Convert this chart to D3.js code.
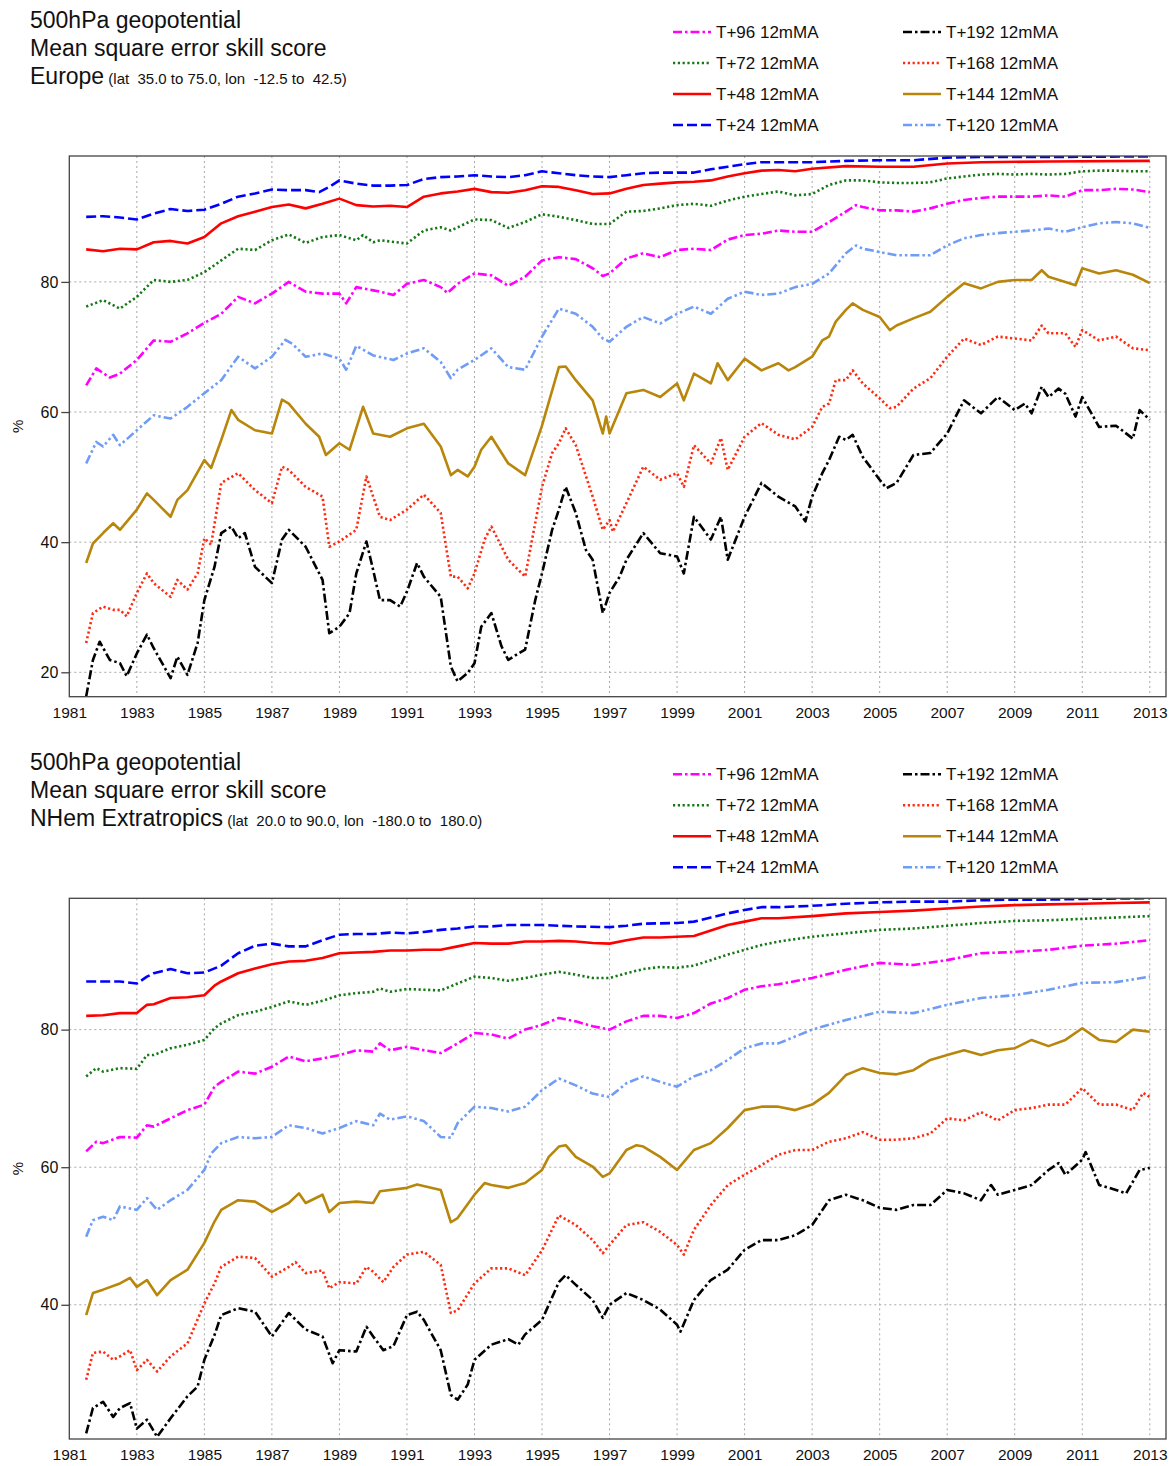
<!DOCTYPE html>
<html>
<head>
<meta charset="utf-8">
<script src="https://cdn.jsdelivr.net/npm/d3@7"></script>
<style>
  body { margin: 0; background: #fff; }
  svg text { font-family: "Liberation Sans", Arial, Helvetica, sans-serif; fill: #111; white-space: pre; }
</style>
</head>
<body>
<script>
'use strict';

// ---- series metadata ----
const seriesNames = ["T+24 12mMA", "T+48 12mMA", "T+72 12mMA", "T+96 12mMA",
                     "T+120 12mMA", "T+144 12mMA", "T+168 12mMA", "T+192 12mMA"];
const xTickYears = [1981, 1983, 1985, 1987, 1989, 1991, 1993, 1995, 1997, 1999,
                    2001, 2003, 2005, 2007, 2009, 2011, 2013];
const euYTicks = [20, 40, 60, 80];
const nhYTicks = [40, 60, 80];

// ---- Europe, [year, value %] ----
const eu24 = [[1981.5,90.0],[1982,90.1],[1982.5,89.9],[1983,89.6],[1983.5,90.5],[1984,91.2],[1984.5,90.9],[1985,91.1],[1985.5,92.0],[1986,93.1],[1986.5,93.6],[1987,94.2],[1987.5,94.1],[1988,94.1],[1988.4,93.8],[1988.7,94.6],[1989,95.6],[1989.5,95.1],[1990,94.8],[1990.5,94.8],[1991,94.9],[1991.5,95.8],[1992,96.1],[1992.5,96.2],[1993,96.4],[1993.5,96.2],[1994,96.1],[1994.5,96.4],[1995,97.0],[1995.5,96.7],[1996,96.4],[1996.5,96.2],[1997,96.1],[1997.5,96.4],[1998,96.7],[1998.5,96.8],[1999,96.8],[1999.5,96.8],[2000,97.3],[2000.5,97.7],[2001,98.1],[2001.5,98.4],[2002,98.4],[2003,98.4],[2004,98.6],[2005,98.7],[2006,98.7],[2007,99.1],[2008,99.2],[2010,99.2],[2013,99.3]];
const eu48 = [[1981.5,85.0],[1982,84.7],[1982.5,85.1],[1983,85.0],[1983.5,86.1],[1984,86.3],[1984.5,85.9],[1985,86.9],[1985.5,89.0],[1986,90.1],[1986.5,90.8],[1987,91.5],[1987.5,91.9],[1988,91.3],[1988.5,92.0],[1989,92.8],[1989.5,91.8],[1990,91.6],[1990.5,91.7],[1991,91.5],[1991.5,93.1],[1992,93.6],[1992.5,93.9],[1993,94.3],[1993.5,93.8],[1994,93.7],[1994.5,94.1],[1995,94.7],[1995.5,94.6],[1996,94.1],[1996.5,93.5],[1997,93.6],[1997.5,94.3],[1998,94.9],[1998.5,95.1],[1999,95.3],[1999.5,95.4],[2000,95.6],[2000.5,96.2],[2001,96.7],[2001.5,97.1],[2002,97.2],[2002.5,97.0],[2003,97.4],[2004,97.8],[2005,97.7],[2006,97.7],[2007,98.2],[2008,98.4],[2010,98.5],[2013,98.6]];
const eu72 = [[1981.5,76.2],[1982,77.2],[1982.5,75.9],[1983,77.7],[1983.5,80.3],[1984,80.0],[1984.5,80.3],[1985,81.5],[1985.5,83.3],[1986,85.1],[1986.5,84.9],[1987,86.4],[1987.5,87.3],[1988,86.0],[1988.5,86.9],[1989,87.2],[1989.5,86.4],[1989.7,87.2],[1990,86.1],[1990.2,86.4],[1991,85.9],[1991.5,87.9],[1992,88.4],[1992.3,87.9],[1993,89.6],[1993.5,89.5],[1994,88.3],[1994.5,89.2],[1995,90.4],[1995.5,90.0],[1996,89.5],[1996.5,88.9],[1997,88.9],[1997.5,90.8],[1998,90.9],[1998.5,91.3],[1999,91.8],[1999.5,92.0],[2000,91.7],[2000.5,92.5],[2001,93.1],[2001.5,93.5],[2002,93.9],[2002.5,93.3],[2003,93.5],[2003.5,94.9],[2004,95.6],[2004.5,95.6],[2005,95.3],[2005.5,95.2],[2006,95.2],[2006.5,95.3],[2007,95.9],[2007.5,96.2],[2008,96.5],[2008.5,96.6],[2009,96.5],[2009.5,96.6],[2010,96.5],[2010.5,96.6],[2011,97.0],[2011.5,97.1],[2012,97.1],[2012.5,97.0],[2013,97.0]];
const eu96 = [[1981.5,64.1],[1981.8,66.7],[1982.2,65.3],[1982.5,65.9],[1983,68.0],[1983.5,71.0],[1984,70.8],[1984.5,72.1],[1985,73.7],[1985.5,75.1],[1986,77.7],[1986.5,76.7],[1987,78.2],[1987.5,80.0],[1988,78.5],[1988.5,78.2],[1989,78.2],[1989.2,76.7],[1989.5,79.2],[1990,78.7],[1990.2,78.5],[1990.6,78.0],[1991,79.7],[1991.5,80.3],[1992,79.2],[1992.2,78.3],[1992.5,79.7],[1993,81.3],[1993.5,81.0],[1994,79.4],[1994.5,80.8],[1995,83.3],[1995.5,83.8],[1996,83.5],[1996.5,82.1],[1996.8,80.9],[1997,81.3],[1997.5,83.6],[1998,84.4],[1998.5,83.8],[1999,84.9],[1999.5,85.1],[2000,84.9],[2000.5,86.5],[2001,87.2],[2001.5,87.4],[2002,87.9],[2002.5,87.7],[2003,87.7],[2003.5,89.2],[2004,90.8],[2004.3,91.8],[2004.5,91.5],[2005,91.0],[2005.5,91.0],[2006,90.8],[2006.5,91.3],[2007,92.0],[2007.5,92.6],[2008,92.9],[2008.5,93.1],[2009,93.1],[2009.5,93.1],[2010,93.3],[2010.5,93.1],[2011,94.1],[2011.5,94.1],[2012,94.3],[2012.5,94.2],[2013,93.8]];
const eu120 = [[1981.5,52.1],[1981.8,55.4],[1982,54.7],[1982.3,56.5],[1982.5,54.9],[1983,57.2],[1983.5,59.5],[1984,59.0],[1984.5,60.8],[1985,62.9],[1985.5,64.9],[1986,68.5],[1986.5,66.7],[1987,68.5],[1987.4,71.1],[1987.6,70.5],[1988,68.5],[1988.5,69.0],[1989,68.2],[1989.2,66.5],[1989.5,70.2],[1990,68.7],[1990.6,68.0],[1991,69.0],[1991.5,69.8],[1992,67.7],[1992.3,65.2],[1992.5,66.5],[1993,68.0],[1993.5,69.8],[1994,66.9],[1994.5,66.5],[1995,71.6],[1995.5,75.9],[1996,75.1],[1996.5,73.1],[1996.8,71.3],[1997,70.8],[1997.5,73.1],[1998,74.6],[1998.5,73.6],[1999,75.1],[1999.5,76.2],[2000,75.1],[2000.5,77.4],[2001,78.5],[2001.5,78.0],[2002,78.2],[2002.5,79.2],[2003,79.7],[2003.5,81.3],[2004,84.4],[2004.3,85.6],[2004.5,85.1],[2005,84.6],[2005.5,84.1],[2006,84.1],[2006.5,84.1],[2007,85.6],[2007.5,86.7],[2008,87.2],[2008.5,87.5],[2009,87.7],[2009.5,87.9],[2010,88.2],[2010.5,87.7],[2011,88.4],[2011.5,89.0],[2012,89.2],[2012.5,89.0],[2013,88.3]];
const eu144 = [[1981.5,36.8],[1981.7,39.8],[1982,41.4],[1982.3,42.9],[1982.5,41.9],[1983,45.0],[1983.3,47.5],[1983.5,46.5],[1984,43.9],[1984.2,46.5],[1984.5,48.0],[1985,52.6],[1985.2,51.4],[1985.5,55.7],[1985.8,60.3],[1986,58.8],[1986.5,57.2],[1987,56.7],[1987.3,61.9],[1987.5,61.3],[1988,58.2],[1988.4,56.2],[1988.6,53.4],[1989,55.2],[1989.3,54.2],[1989.7,60.8],[1990,56.7],[1990.5,56.2],[1991,57.5],[1991.5,58.2],[1992,54.7],[1992.3,50.3],[1992.5,51.1],[1992.8,50.1],[1993,51.6],[1993.2,54.2],[1993.5,56.2],[1994,52.1],[1994.5,50.3],[1995,57.9],[1995.5,66.9],[1995.7,67.0],[1996,64.9],[1996.5,61.8],[1996.8,56.7],[1996.9,59.3],[1997,56.7],[1997.5,62.9],[1998,63.4],[1998.5,62.3],[1999,64.4],[1999.2,61.8],[1999.5,65.9],[2000,64.4],[2000.2,67.5],[2000.5,64.9],[2001,68.2],[2001.5,66.4],[2002,67.5],[2002.3,66.4],[2002.5,66.9],[2003,68.5],[2003.3,71.0],[2003.5,71.6],[2003.7,73.9],[2004,75.7],[2004.2,76.7],[2004.5,75.7],[2005,74.6],[2005.3,72.6],[2005.5,73.3],[2006,74.4],[2006.5,75.4],[2007,77.7],[2007.5,79.8],[2008,79.0],[2008.5,80.0],[2009,80.3],[2009.5,80.3],[2009.8,81.8],[2010,80.8],[2010.5,80.0],[2010.8,79.5],[2011,82.1],[2011.5,81.3],[2012,81.8],[2012.5,81.1],[2013,79.8]];
const eu168 = [[1981.5,24.5],[1981.7,29.1],[1982,30.1],[1982.3,29.6],[1982.5,29.6],[1982.7,28.6],[1983,32.2],[1983.3,35.2],[1983.5,33.7],[1984,31.6],[1984.2,34.2],[1984.5,32.7],[1984.8,35.2],[1985,40.6],[1985.2,39.6],[1985.5,49.1],[1986,50.6],[1986.5,48.0],[1987,46.0],[1987.3,51.6],[1987.5,51.1],[1988,48.5],[1988.5,47.0],[1988.7,39.3],[1989,40.1],[1989.5,41.9],[1989.8,50.1],[1990,47.0],[1990.2,43.9],[1990.5,43.4],[1991,45.0],[1991.5,47.3],[1992,44.5],[1992.3,34.7],[1992.5,34.7],[1992.8,32.9],[1993,35.2],[1993.3,40.4],[1993.5,42.4],[1994,37.3],[1994.5,34.7],[1995,48.5],[1995.3,53.7],[1995.5,55.2],[1995.7,57.5],[1996,54.9],[1996.5,47.0],[1996.8,41.9],[1997,43.4],[1997.1,41.6],[1997.5,46.0],[1998,51.6],[1998.5,49.6],[1999,50.6],[1999.2,48.5],[1999.5,54.9],[2000,52.1],[2000.3,56.0],[2000.5,51.1],[2001,56.2],[2001.5,58.3],[2002,56.5],[2002.5,55.8],[2003,57.7],[2003.3,60.8],[2003.5,61.3],[2003.7,64.9],[2004,64.9],[2004.2,66.4],[2004.5,64.4],[2005,62.1],[2005.3,60.6],[2005.5,60.8],[2006,63.6],[2006.5,65.2],[2007,68.5],[2007.5,71.3],[2008,70.3],[2008.5,71.6],[2009,71.3],[2009.5,71.0],[2009.8,73.3],[2010,72.1],[2010.5,72.1],[2010.8,70.0],[2011,72.6],[2011.5,71.0],[2012,71.6],[2012.5,69.8],[2013,69.5]];
const eu192 = [[1981.5,16.3],[1981.7,21.9],[1981.9,24.7],[1982.2,21.9],[1982.5,21.4],[1982.7,19.4],[1983,22.9],[1983.3,25.8],[1983.5,23.7],[1984,19.1],[1984.2,22.4],[1984.5,19.6],[1984.8,24.5],[1985,31.1],[1985.3,36.2],[1985.5,41.4],[1985.8,42.4],[1986,40.6],[1986.2,41.4],[1986.5,36.2],[1987,33.7],[1987.3,40.4],[1987.5,41.9],[1988,39.3],[1988.5,34.2],[1988.7,26.0],[1989,27.0],[1989.3,29.1],[1989.5,35.2],[1989.8,40.1],[1990,35.7],[1990.2,31.1],[1990.5,31.1],[1990.8,30.1],[1991,32.4],[1991.3,36.8],[1991.5,34.7],[1992,31.6],[1992.3,20.9],[1992.5,18.6],[1992.8,19.9],[1993,21.4],[1993.2,27.0],[1993.5,29.1],[1993.8,24.0],[1994,21.9],[1994.3,22.9],[1994.5,23.5],[1994.8,31.1],[1995,35.2],[1995.3,41.9],[1995.5,45.0],[1995.7,48.5],[1996,44.5],[1996.3,38.8],[1996.5,37.3],[1996.8,29.1],[1997,32.2],[1997.3,34.7],[1997.5,37.3],[1998,41.4],[1998.5,38.3],[1999,37.8],[1999.2,35.2],[1999.5,43.9],[2000,40.4],[2000.3,43.9],[2000.5,37.3],[2001,43.9],[2001.5,49.1],[2002,47.0],[2002.5,45.5],[2002.8,43.2],[2003,47.0],[2003.3,50.6],[2003.5,52.6],[2003.8,56.2],[2004,55.7],[2004.2,56.5],[2004.5,53.1],[2005,49.6],[2005.2,48.3],[2005.5,49.1],[2006,53.4],[2006.5,53.7],[2007,56.7],[2007.3,59.8],[2007.5,61.8],[2008,59.8],[2008.5,62.3],[2009,60.3],[2009.3,61.3],[2009.5,59.8],[2009.8,63.9],[2010,62.3],[2010.3,63.6],[2010.5,62.8],[2010.8,59.3],[2011,62.3],[2011.5,57.7],[2012,57.9],[2012.5,55.9],[2012.7,60.3],[2013,58.8]];

// ---- NHem Extratropics, [year, value %] ----
const nh24 = [[1981.5,87.0],[1982,87.0],[1982.5,87.0],[1983,86.7],[1983.3,87.7],[1983.5,88.2],[1984,88.8],[1984.5,88.2],[1985,88.3],[1985.5,89.3],[1986,91.1],[1986.5,92.2],[1987,92.5],[1987.5,92.1],[1988,92.1],[1988.5,93.0],[1989,93.8],[1989.5,93.9],[1990,93.9],[1990.5,94.1],[1991,94.0],[1991.5,94.2],[1992,94.5],[1992.5,94.7],[1993,95.0],[1993.5,95.0],[1994,95.2],[1995,95.2],[1996,95.0],[1997,94.9],[1997.5,95.1],[1998,95.4],[1999,95.5],[1999.5,95.7],[2000,96.3],[2000.5,96.9],[2001,97.4],[2001.5,97.8],[2002,97.8],[2003,98.0],[2004,98.3],[2005,98.5],[2006,98.6],[2007,98.6],[2008,98.8],[2009,98.9],[2010,98.9],[2011,99.0],[2013,99.1]];
const nh48 = [[1981.5,82.0],[1982,82.1],[1982.5,82.4],[1983,82.4],[1983.3,83.6],[1983.5,83.7],[1984,84.6],[1984.5,84.7],[1985,85.0],[1985.3,86.4],[1985.5,87.0],[1986,88.2],[1986.5,88.9],[1987,89.5],[1987.5,89.9],[1988,90.0],[1988.5,90.4],[1989,91.1],[1989.5,91.2],[1990,91.3],[1990.5,91.5],[1991,91.5],[1991.5,91.6],[1992,91.6],[1992.5,92.1],[1993,92.6],[1993.5,92.5],[1994,92.5],[1994.5,92.8],[1995,92.8],[1995.5,92.9],[1996,92.8],[1996.5,92.6],[1997,92.5],[1997.5,93.0],[1998,93.4],[1998.5,93.4],[1999,93.5],[1999.5,93.6],[2000,94.4],[2000.5,95.2],[2001,95.7],[2001.5,96.2],[2002,96.2],[2003,96.5],[2004,96.9],[2005,97.1],[2006,97.3],[2007,97.6],[2008,97.9],[2009,98.1],[2010,98.2],[2011,98.3],[2012,98.4],[2013,98.5]];
const nh72 = [[1981.5,73.2],[1981.8,74.4],[1982,73.9],[1982.5,74.4],[1983,74.3],[1983.3,76.3],[1983.5,76.3],[1984,77.3],[1984.5,77.8],[1985,78.5],[1985.3,80.2],[1985.5,80.9],[1986,82.1],[1986.5,82.6],[1987,83.3],[1987.5,84.1],[1988,83.6],[1988.5,84.2],[1989,85.0],[1989.5,85.3],[1990,85.5],[1990.2,86.0],[1990.5,85.5],[1991,85.9],[1991.5,85.8],[1992,85.7],[1992.5,86.7],[1993,87.7],[1993.5,87.5],[1994,87.1],[1994.5,87.5],[1995,88.0],[1995.5,88.4],[1996,88.0],[1996.5,87.5],[1997,87.5],[1997.5,88.2],[1998,88.8],[1998.5,89.1],[1999,89.0],[1999.5,89.3],[2000,90.1],[2000.5,90.9],[2001,91.6],[2001.5,92.3],[2002,92.8],[2003,93.5],[2004,94.0],[2005,94.5],[2006,94.7],[2007,95.1],[2008,95.5],[2009,95.8],[2010,95.9],[2011,96.1],[2012,96.3],[2013,96.5]];
const nh96 = [[1981.5,62.3],[1981.8,63.7],[1982,63.5],[1982.5,64.4],[1983,64.3],[1983.3,66.1],[1983.5,65.9],[1984,67.1],[1984.5,68.3],[1985,69.1],[1985.3,71.7],[1985.5,72.4],[1986,73.9],[1986.5,73.6],[1987,74.6],[1987.5,76.1],[1988,75.4],[1988.5,75.8],[1989,76.3],[1989.5,77.0],[1990,76.8],[1990.2,78.0],[1990.5,77.0],[1991,77.5],[1991.5,77.0],[1992,76.6],[1992.5,78.0],[1993,79.5],[1993.5,79.3],[1994,78.7],[1994.5,80.0],[1995,80.7],[1995.5,81.7],[1996,81.2],[1996.5,80.5],[1997,80.0],[1997.5,81.2],[1998,82.0],[1998.5,82.0],[1999,81.7],[1999.5,82.4],[2000,83.8],[2000.5,84.6],[2001,85.8],[2001.5,86.3],[2002,86.6],[2003,87.5],[2004,88.7],[2005,89.7],[2006,89.4],[2007,90.1],[2008,91.1],[2009,91.3],[2010,91.6],[2011,92.2],[2012,92.5],[2013,93.0]];
const nh120 = [[1981.5,49.9],[1981.7,52.3],[1982,52.8],[1982.3,52.3],[1982.5,54.3],[1983,53.8],[1983.3,55.5],[1983.6,53.8],[1984,55.2],[1984.5,56.7],[1985,59.6],[1985.2,62.0],[1985.5,63.5],[1986,64.4],[1986.5,64.2],[1987,64.4],[1987.5,66.1],[1988,65.7],[1988.5,64.9],[1989,65.7],[1989.5,66.7],[1990,66.1],[1990.2,67.8],[1990.5,66.9],[1991,67.4],[1991.5,66.7],[1992,64.4],[1992.3,64.3],[1992.5,66.4],[1993,68.8],[1993.5,68.6],[1994,68.1],[1994.5,68.8],[1995,71.2],[1995.5,72.9],[1996,71.9],[1996.5,70.7],[1997,70.2],[1997.5,72.2],[1998,73.2],[1998.5,72.4],[1999,71.7],[1999.5,73.2],[2000,74.1],[2000.5,75.6],[2001,77.3],[2001.5,78.0],[2002,78.0],[2003,80.0],[2004,81.4],[2005,82.6],[2006,82.4],[2007,83.6],[2008,84.6],[2009,85.0],[2010,85.8],[2011,86.8],[2012,86.9],[2013,87.7]];
const nh144 = [[1981.5,38.5],[1981.7,41.7],[1982,42.2],[1982.5,43.1],[1982.8,43.9],[1983,42.6],[1983.3,43.6],[1983.6,41.4],[1984,43.6],[1984.5,45.1],[1985,49.0],[1985.3,52.1],[1985.5,53.8],[1986,55.2],[1986.5,55.0],[1987,53.5],[1987.5,54.8],[1987.8,56.2],[1988,54.8],[1988.5,56.0],[1988.7,53.5],[1989,54.8],[1989.5,55.0],[1990,54.8],[1990.2,56.5],[1991,57.0],[1991.3,57.5],[1992,56.7],[1992.3,52.0],[1992.5,52.6],[1993,56.0],[1993.3,57.7],[1993.5,57.4],[1994,57.0],[1994.5,57.7],[1995,59.6],[1995.2,61.5],[1995.5,63.0],[1995.7,63.2],[1996,61.5],[1996.5,60.1],[1996.8,58.6],[1997,59.1],[1997.5,62.5],[1997.8,63.2],[1998,63.0],[1998.5,61.5],[1999,59.6],[1999.5,62.5],[2000,63.5],[2000.5,65.7],[2001,68.3],[2001.5,68.8],[2002,68.8],[2002.5,68.3],[2003,69.1],[2003.5,70.8],[2004,73.4],[2004.5,74.4],[2005,73.7],[2005.5,73.5],[2006,74.1],[2006.5,75.6],[2007,76.3],[2007.5,77.0],[2008,76.3],[2008.5,77.0],[2009,77.3],[2009.5,78.5],[2010,77.6],[2010.5,78.5],[2011,80.2],[2011.5,78.5],[2012,78.2],[2012.5,80.0],[2013,79.7]];
const nh168 = [[1981.5,29.1],[1981.7,33.0],[1982,33.2],[1982.3,32.0],[1982.5,32.5],[1982.8,33.4],[1983,30.5],[1983.3,32.0],[1983.6,30.3],[1984,32.5],[1984.5,34.4],[1985,40.2],[1985.3,43.1],[1985.5,45.5],[1986,47.0],[1986.5,46.8],[1987,44.1],[1987.5,45.5],[1987.7,46.2],[1988,44.6],[1988.5,45.0],[1988.7,42.4],[1989,43.3],[1989.5,43.1],[1989.8,45.5],[1990,44.8],[1990.3,43.3],[1990.6,45.5],[1991,47.3],[1991.5,47.7],[1992,45.8],[1992.3,38.8],[1992.5,39.2],[1993,43.1],[1993.5,45.3],[1994,45.3],[1994.5,44.3],[1995,47.9],[1995.5,53.0],[1996,51.6],[1996.5,49.4],[1996.8,47.5],[1997,48.7],[1997.5,51.6],[1998,52.0],[1998.5,50.6],[1999,48.7],[1999.2,47.3],[1999.5,50.9],[2000,54.5],[2000.5,57.4],[2001,58.9],[2001.5,60.3],[2002,61.8],[2002.5,62.5],[2003,62.5],[2003.5,63.7],[2004,64.2],[2004.5,65.1],[2005,64.0],[2005.5,64.0],[2006,64.2],[2006.5,64.9],[2007,67.1],[2007.5,66.8],[2008,68.0],[2008.5,66.8],[2009,68.3],[2009.5,68.6],[2010,69.1],[2010.5,69.1],[2011,71.5],[2011.5,69.1],[2012,69.1],[2012.5,68.3],[2012.8,70.8],[2013,70.2]];
const nh192 = [[1981.5,21.3],[1981.7,25.0],[1982,25.9],[1982.3,23.7],[1982.5,25.0],[1982.8,25.7],[1983,22.0],[1983.3,23.3],[1983.6,20.8],[1984,23.5],[1984.5,26.7],[1984.8,28.1],[1985,32.0],[1985.3,35.6],[1985.5,38.5],[1986,39.5],[1986.5,39.0],[1987,35.4],[1987.5,38.8],[1988,36.4],[1988.5,35.4],[1988.8,31.5],[1989,33.4],[1989.5,33.2],[1989.8,36.8],[1990,35.4],[1990.3,33.4],[1990.6,34.0],[1991,38.5],[1991.3,39.0],[1991.5,37.8],[1992,33.4],[1992.3,26.9],[1992.5,26.2],[1992.8,28.4],[1993,32.0],[1993.5,34.2],[1994,35.0],[1994.3,34.2],[1994.5,35.7],[1995,37.8],[1995.5,43.3],[1995.7,44.3],[1996,42.9],[1996.5,40.7],[1996.8,38.1],[1997,40.0],[1997.5,41.7],[1998,40.7],[1998.5,39.3],[1999,37.1],[1999.1,36.1],[1999.5,40.7],[2000,43.6],[2000.5,45.1],[2001,48.0],[2001.5,49.4],[2002,49.4],[2002.5,50.1],[2003,51.6],[2003.5,55.2],[2004,56.0],[2004.5,55.2],[2005,54.1],[2005.5,53.8],[2006,54.5],[2006.5,54.5],[2007,56.7],[2007.5,56.2],[2008,55.2],[2008.3,57.4],[2008.5,56.0],[2009,56.7],[2009.5,57.4],[2010,59.6],[2010.3,60.6],[2010.5,58.9],[2011,61.1],[2011.1,62.2],[2011.5,57.4],[2012,56.7],[2012.3,56.2],[2012.7,59.6],[2013,59.9]];

// Line styles, in the same order as seriesNames.
const lineStyles = [
	{ color: "#0000ff", dash: "10,4" },
	{ color: "#ff0000", dash: null },
	{ color: "#157815", dash: "2.2,2.6" },
	{ color: "#ff00ff", dash: "9,3,2.5,3" },
	{ color: "#6f9cf5", dash: "9,3,2.5,3,2.5,3" },
	{ color: "#b8860b", dash: null },
	{ color: "#ff2a10", dash: "2.2,2.6" },
	{ color: "#000000", dash: "9,3,2.5,3" }
];

// Legend layout: left column holds T+96..T+24, right column T+192..T+120.
const legendOrder = [[3, 2, 1, 0], [7, 6, 5, 4]];

const W = 1172, H = 1466;
const svg = d3.select("body").append("svg").attr("width", W).attr("height", H);

// Draws one of the two panels. offY shifts everything down for the second panel.
function drawPanel(cfg)
{
	const g = svg.append("g").attr("transform", "translate(0," + cfg.offY + ")");

	// Titles
	g.append("text").attr("x", 30).attr("y", 28).attr("font-size", 23).text("500hPa geopotential");
	g.append("text").attr("x", 30).attr("y", 56).attr("font-size", 23).text("Mean square error skill score");
	let t3 = g.append("text").attr("x", 30).attr("y", 84).attr("font-size", 23);
	t3.append("tspan").text(cfg.region);
	t3.append("tspan").attr("font-size", 15).text(" " + cfg.box);

	// Legend
	legendOrder.forEach(function(col, ci) {
		let lx = ci == 0 ? 673 : 903;
		col.forEach(function(si, ri) {
			let ly = 32 + ri * 31;
			let st = lineStyles[si];
			g.append("line")
				.attr("x1", lx).attr("x2", lx + 38).attr("y1", ly).attr("y2", ly)
				.attr("stroke", st.color).attr("stroke-width", 2.5)
				.attr("stroke-dasharray", st.dash);
			g.append("text").attr("x", lx + 43).attr("y", ly + 6)
				.attr("font-size", 17).text(seriesNames[si]);
		});
	});

	const top = 156, bottom = 696.7, left = 69.3, right = 1166;
	const x = d3.scaleLinear().domain([1981, 2013.48]).range([left, right]);
	const y = d3.scaleLinear().domain(cfg.yDomain).range([bottom, top]);

	// Grid
	g.selectAll(".vgrid").data(xTickYears.slice(1)).enter().append("line")
		.attr("x1", d => x(d)).attr("x2", d => x(d)).attr("y1", top).attr("y2", bottom)
		.attr("stroke", "#a8a8a8").attr("stroke-width", 1).attr("stroke-dasharray", "2,3");
	g.selectAll(".hgrid").data(cfg.yTicks).enter().append("line")
		.attr("x1", left).attr("x2", right).attr("y1", d => y(d)).attr("y2", d => y(d))
		.attr("stroke", "#a8a8a8").attr("stroke-width", 1).attr("stroke-dasharray", "2,3");

	// Lines, clipped to the plot box
	const clipId = "clip" + Math.round(cfg.offY);
	g.append("clipPath").attr("id", clipId).append("rect")
		.attr("x", left).attr("y", top).attr("width", right - left).attr("height", bottom - top);
	const line = d3.line().x(d => x(d[0])).y(d => y(d[1]));
	const plot = g.append("g").attr("clip-path", "url(#" + clipId + ")");
	// draw longer lead times first so short lead times sit on top
	for (let i = cfg.series.length - 1; i >= 0; i--)
	{
		let st = lineStyles[i];
		plot.append("path").datum(cfg.series[i])
			.attr("d", line)
			.attr("fill", "none")
			.attr("stroke", st.color)
			.attr("stroke-width", 2.6)
			.attr("stroke-linejoin", "round")
			.attr("stroke-dasharray", st.dash);
	}

	// Frame
	g.append("rect").attr("x", left).attr("y", top).attr("width", right - left).attr("height", bottom - top)
		.attr("fill", "none").attr("stroke", "#444").attr("stroke-width", 1.3);

	// Y axis
	const yAxis = d3.axisLeft(y).tickValues(cfg.yTicks).tickSize(8).tickPadding(3);
	const ya = g.append("g").attr("transform", "translate(" + left + ",0)").call(yAxis);
	ya.select(".domain").remove();
	ya.selectAll("line").attr("stroke", "#444").attr("stroke-width", 1.3);
	ya.selectAll("text").attr("font-size", 16).attr("fill", "#111")
		.attr("font-family", "'Liberation Sans', Arial, sans-serif");

	// X axis labels
	const xAxis = d3.axisBottom(x).tickValues(xTickYears).tickFormat(d3.format("d")).tickSize(0).tickPadding(10);
	const xa = g.append("g").attr("transform", "translate(0," + bottom + ")").call(xAxis);
	xa.select(".domain").remove();
	xa.selectAll("text").attr("font-size", 15.5).attr("fill", "#111")
		.attr("font-family", "'Liberation Sans', Arial, sans-serif");

	// % label
	g.append("text").attr("transform", "translate(23," + ((top + bottom) / 2) + ") rotate(-90)")
		.attr("text-anchor", "middle").attr("font-size", 15).text("%");
}

drawPanel({
	offY: 0,
	region: "Europe",
	box: "(lat  35.0 to 75.0, lon  -12.5 to  42.5)",
	yDomain: [16.25, 99.35],
	yTicks: euYTicks,
	series: [eu24, eu48, eu72, eu96, eu120, eu144, eu168, eu192]
});

drawPanel({
	offY: 742.3,
	region: "NHem Extratropics",
	box: "(lat  20.0 to 90.0, lon  -180.0 to  180.0)",
	yDomain: [20.49, 99.09],
	yTicks: nhYTicks,
	series: [nh24, nh48, nh72, nh96, nh120, nh144, nh168, nh192]
});
</script>
</body>
</html>
